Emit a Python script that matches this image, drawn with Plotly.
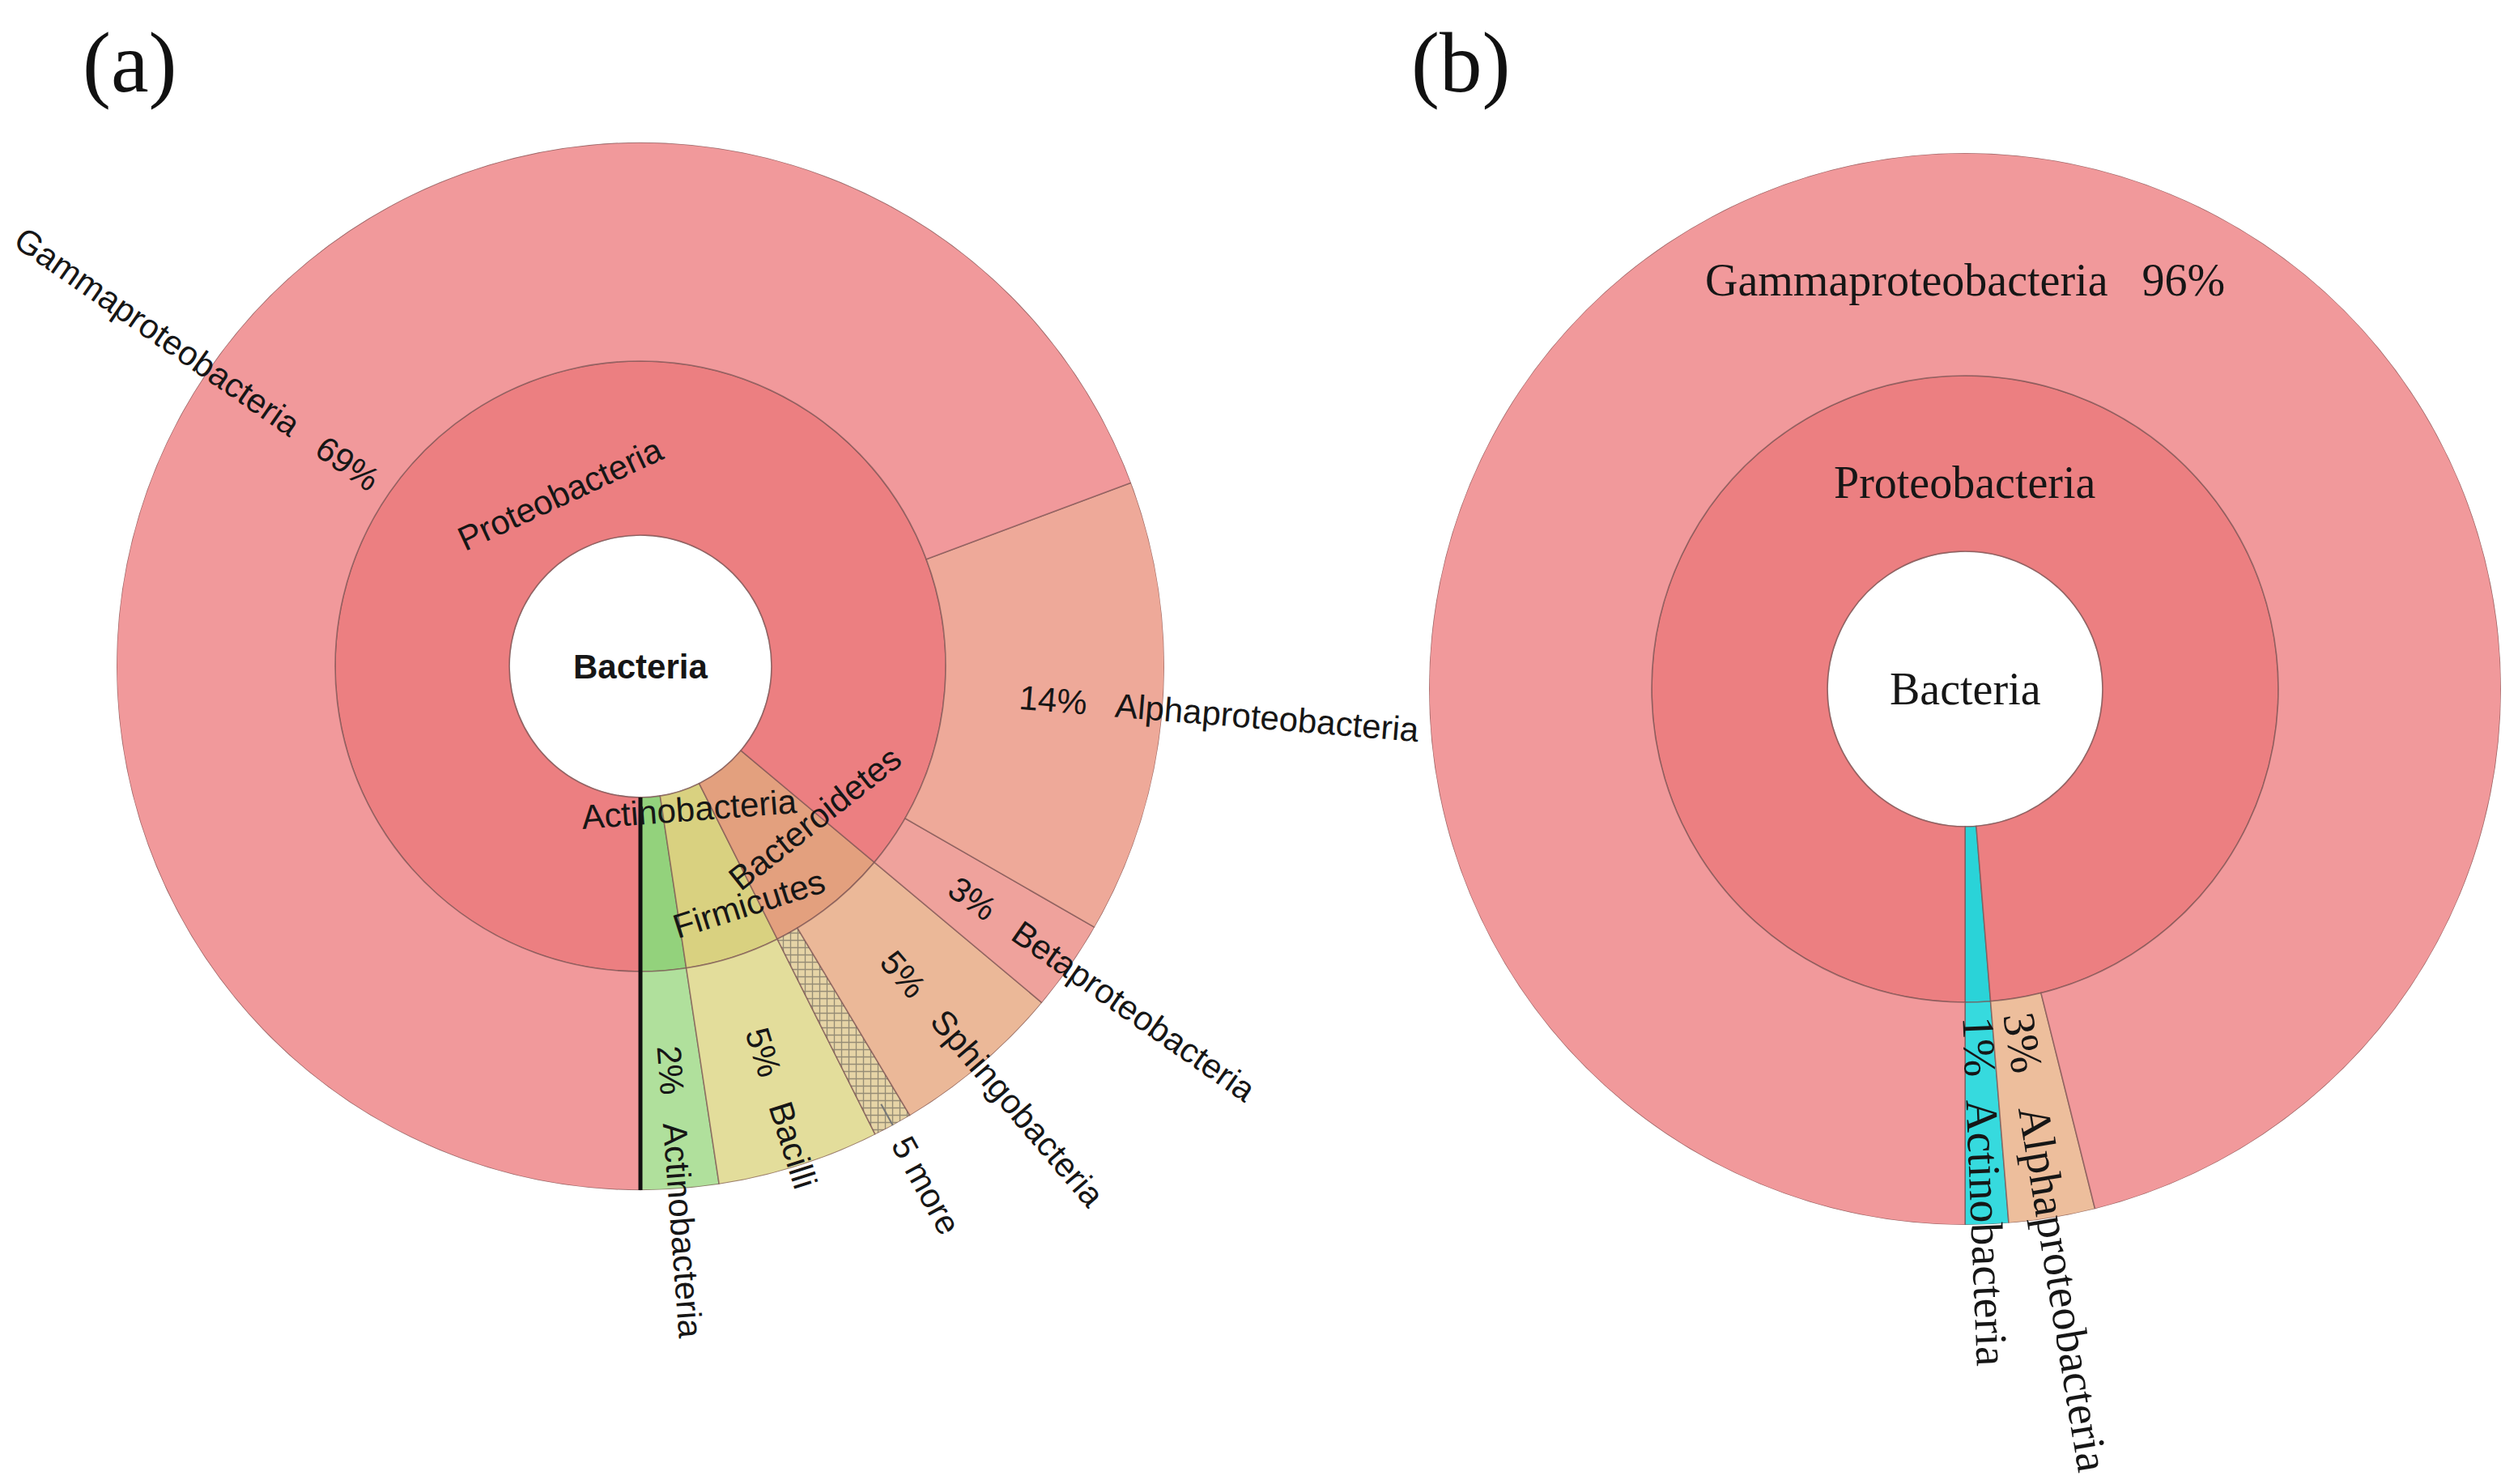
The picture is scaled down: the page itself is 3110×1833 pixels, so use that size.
import math
import plotly.graph_objects as go

W, H = 3110, 1833

# ---------------- data: panel (a) ----------------
a_root = "Bacteria"
a_phyla = ["Actinobacteria", "Firmicutes", "Bacteroidetes", "Proteobacteria"]
a_classes = ["Actinobacteria", "Bacilli", "5 more", "Sphingobacteria",
             "Betaproteobacteria", "Alphaproteobacteria", "Gammaproteobacteria"]
a_class_parents = ["Actinobacteria", "Firmicutes", "Bacteroidetes", "Bacteroidetes",
                   "Proteobacteria", "Proteobacteria", "Proteobacteria"]
a_class_values = [2.4, 5.0, 1.2, 5.3, 2.8, 14.0, 69.3]   # percent of reads

# ---------------- data: panel (b) ----------------
b_root = "Bacteria"
b_phyla = ["Actinobacteria", "Proteobacteria"]
b_classes = ["Actinobacteria", "Alphaproteobacteria", "Gammaproteobacteria"]
b_class_parents = ["Actinobacteria", "Proteobacteria", "Proteobacteria"]
b_class_values = [1.3, 2.6, 96.1]

# ---------------- styles ----------------
a_phylum_colors = ["#93D27C", "#D9D180", "#E3A07E", "#EC7F81"]
a_class_colors = ["#B0E09C", "#E3DD9B", "#E6D4A6", "#EBB898", "#EFA29C", "#EEA999", "#F1999B"]
b_phylum_colors = ["#2AD3D8", "#EC7F81"]
b_class_colors = ["#36DADE", "#EDBE9C", "#F1999B"]

GEO_A = dict(cx=791, cy=823, r_hole=162, r_mid=377, r_out=647)
GEO_B = dict(cx=2427, cy=851, r_hole=170, r_mid=387, r_out=662)

# label placement (radius, angle) for the phylum labels of panel (a)
A_PHYLUM_LABEL_POS = [(187, 19), (322, 24.5), (286, 49), (235, None)]

EDGE = dict(color="rgba(120,80,80,0.65)", width=1.6)

ARIAL = {" ": .278, "\u00a0": .278, "%": .889, "A": .667, "B": .667, "C": .722, "F": .611,
         "G": .778, "P": .667, "S": .667, "a": .556, "b": .556, "c": .5, "d": .556,
         "e": .556, "f": .278, "g": .556, "h": .556, "i": .222, "l": .222, "m": .833,
         "n": .556, "o": .556, "p": .556, "r": .333, "s": .5, "t": .278, "u": .556}
TIMES = {" ": .25, "\u00a0": .25, "%": .833, "A": .722, "B": .667, "G": .722, "P": .556,
         "a": .444, "b": .5, "c": .444, "e": .444, "h": .5, "i": .278, "l": .278,
         "m": .778, "n": .5, "o": .5, "p": .5, "r": .333, "t": .278}


def est_width(text, size, table):
    dig = 0.556 if table is ARIAL else 0.5
    return size * sum(dig if ch.isdigit() else table.get(ch, 0.5) for ch in text)


def paper(geo, r, th):
    t = math.radians(th)
    return (geo["cx"] + r * math.sin(t)) / W, 1 - (geo["cy"] + r * math.cos(t)) / H


def polar_domain(geo):
    R = geo["r_out"]
    return dict(x=[(geo["cx"] - R) / W, (geo["cx"] + R) / W],
                y=[(H - geo["cy"] - R) / H, (H - geo["cy"] + R) / H])


def spans(values):
    out, c = [], 0.0
    for v in values:
        out.append((c * 3.6, v * 3.6))
        c += v
    return out


def ann(x, y, text, ang, font):
    return dict(x=x, y=y, xref="paper", yref="paper", text=text, textangle=ang,
                showarrow=False, font=font, xanchor="center", yanchor="middle")


def radial_label(geo, th, name, pct, r0, font, table, gap):
    th = th % 360
    if th <= 180:
        text = f"{pct}{gap}{name}" if pct else name
        ang = 90 - th
    else:
        text = f"{name}{gap}{pct}" if pct else name
        ang = 270 - th
    w = est_width(text, font["size"], table)
    x, y = paper(geo, r0 + w / 2, th)
    return ann(x, y, text, ang, font)


def tangential_angle(th):
    th = th % 360
    if th <= 90 or th >= 270:
        a = -th
        return a + 360 if a < -180 else a
    return 180 - th


def add_rings(fig, pid, geo, phyla, classes, parents, values, pcolors, ccolors, patterns):
    phylum_values = [sum(v for v, p in zip(values, parents) if p == ph) for ph in phyla]
    ps = spans(phylum_values)
    cs = spans(values)
    fig.add_trace(go.Barpolar(r=[geo["r_hole"]], base=[0], theta=[180], width=[360],
                              marker=dict(color="white", line=EDGE), subplot=pid,
                              hoverinfo="skip", showlegend=False))
    fig.add_trace(go.Barpolar(
        r=[geo["r_mid"] - geo["r_hole"]] * len(phyla), base=[geo["r_hole"]] * len(phyla),
        theta=[s + w / 2 for s, w in ps], width=[w for s, w in ps],
        marker=dict(color=pcolors, line=EDGE), subplot=pid,
        text=phyla, hoverinfo="text", showlegend=False))
    fig.add_trace(go.Barpolar(
        r=[geo["r_out"] - geo["r_mid"]] * len(classes), base=[geo["r_mid"]] * len(classes),
        theta=[s + w / 2 for s, w in cs], width=[w for s, w in cs],
        marker=dict(color=ccolors, line=EDGE,
                    pattern=dict(shape=patterns, fgcolor="rgba(150,125,95,0.7)",
                                 size=9, solidity=0.28)),
        subplot=pid, text=classes, hoverinfo="text", showlegend=False))
    return ps, cs, phylum_values


fig = go.Figure()

# ---------- panel (a) ----------
a_patterns = ["+" if c.endswith("more") else "" for c in a_classes]
ps_a, cs_a, pv_a = add_rings(fig, "polar", GEO_A, a_phyla, a_classes, a_class_parents,
                             a_class_values, a_phylum_colors, a_class_colors, a_patterns)
fig.add_trace(go.Scatterpolar(r=[GEO_A["r_hole"], GEO_A["r_out"]], theta=[cs_a[0][0]] * 2,
                              mode="lines", line=dict(color="#111", width=5),
                              subplot="polar", hoverinfo="skip", showlegend=False))
i_more = a_classes.index("5 more")
th_more = cs_a[i_more][0] + cs_a[i_more][1] / 2
fig.add_trace(go.Scatterpolar(r=[GEO_A["r_out"] - 30, GEO_A["r_out"] + 14], theta=[th_more] * 2,
                              mode="lines", line=dict(color="#777", width=2),
                              subplot="polar", hoverinfo="skip", showlegend=False))

# ---------- panel (b) ----------
b_patterns = [""] * len(b_classes)
ps_b, cs_b, pv_b = add_rings(fig, "polar2", GEO_B, b_phyla, b_classes, b_class_parents,
                             b_class_values, b_phylum_colors, b_class_colors, b_patterns)

polar_common = dict(
    radialaxis=dict(visible=False, showgrid=False),
    angularaxis=dict(visible=False, showgrid=False, rotation=270, direction="counterclockwise"),
    bgcolor="rgba(0,0,0,0)", bargap=0, barmode="overlay")

fig.update_layout(
    width=W, height=H, margin=dict(l=0, r=0, t=0, b=0),
    paper_bgcolor="white", plot_bgcolor="white", showlegend=False,
    polar=dict(domain=polar_domain(GEO_A), **polar_common),
    polar2=dict(domain=polar_domain(GEO_B), **polar_common),
)
fig.update_layout(polar_radialaxis_range=[0, GEO_A["r_out"]],
                  polar2_radialaxis_range=[0, GEO_B["r_out"]])

annotations = []
FA = dict(family="Liberation Sans, Arial", size=42, color="#161616")
FB = dict(family="Liberation Serif, Times New Roman", size=56, color="#161616")
FT = dict(family="Liberation Serif, Times New Roman", size=105, color="#111")

annotations.append(ann(160 / W, 1 - 77 / H, "(a)", 0, FT))
annotations.append(ann(1804 / W, 1 - 77 / H, "(b)", 0, FT))

# (a) root
x, y = paper(GEO_A, 0, 0)
annotations.append(ann(x, y, f"<b>{a_root}</b>", 0, FA))
# (a) phylum labels (tangential to their wedge)
for name, (s, w), (rr, tl) in zip(a_phyla, ps_a, A_PHYLUM_LABEL_POS):
    th = s + w / 2
    x, y = paper(GEO_A, rr, th if tl is None else tl)
    annotations.append(ann(x, y, name, tangential_angle(th), FA))
# (a) class labels (radial)
for name, (s, w), v in zip(a_classes, cs_a, a_class_values):
    th = s + w / 2
    if name.endswith("more"):
        annotations.append(radial_label(GEO_A, th, name, "", GEO_A["r_out"] + 20, FA, ARIAL, ""))
    elif th <= 180:
        annotations.append(radial_label(GEO_A, th, name, f"{round(v)}%", 470, FA, ARIAL,
                                        "\u00a0\u00a0\u00a0"))
    else:
        annotations.append(radial_label(GEO_A, th, name, f"{round(v)}%", 398, FA, ARIAL,
                                        "\u00a0\u00a0\u00a0"))

# (b) root
x, y = paper(GEO_B, 0, 0)
annotations.append(ann(x, y, b_root, 0, FB))
# (b) dominant phylum label, horizontal at the top
ip = pv_b.index(max(pv_b))
x, y = paper(GEO_B, 255, 180)
annotations.append(ann(x, y, b_phyla[ip], 0, FB))
# (b) class labels
for name, (s, w), v in zip(b_classes, cs_b, b_class_values):
    th = s + w / 2
    pct = f"{round(v)}%"
    if w > 180:
        x, y = paper(GEO_B, 505, 180)
        annotations.append(ann(x, y, f"{name}\u00a0\u00a0\u00a0{pct}", 0, FB))
    else:
        gap = "\u00a0\u00a0" if w < 6 else "\u00a0\u00a0\u00a0"
        annotations.append(radial_label(GEO_B, th, name, pct, 405, FB, TIMES, gap))

fig.update_layout(annotations=annotations)
fig.write_html("out.html", config={"displayModeBar": False},
               post_script="document.body.style.margin='0px';")
